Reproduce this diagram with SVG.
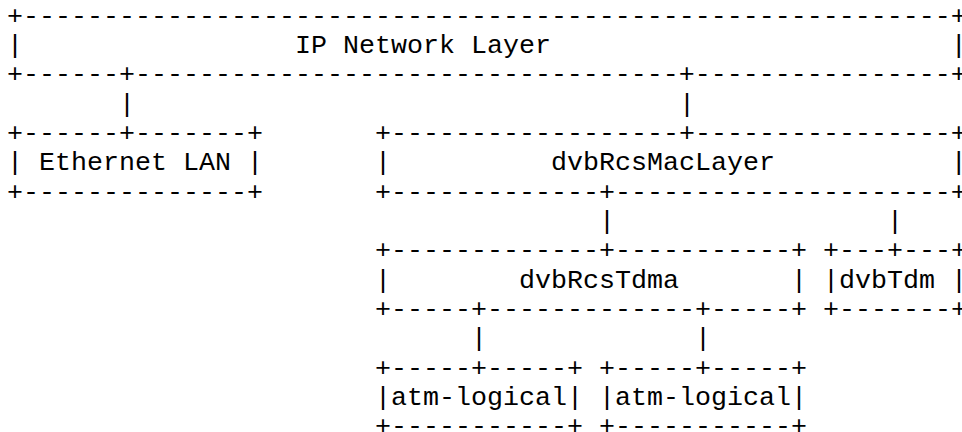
<svg xmlns="http://www.w3.org/2000/svg" width="962" height="432" viewBox="0 0 962 432">
<style>
text{font-family:"Liberation Mono","Courier New",monospace;font-size:26.67px;fill:#000;white-space:pre;}
</style>
<rect width="962" height="432" fill="#fff"/>
<g id="ip-network-layer">
<text x="7" y="23.7">+----------------------------------------------------------+</text>
<text x="7" y="53">|                 IP Network Layer                         |</text>
<text x="7" y="82.4">+------+----------------------------------+----------------+</text>
</g>
<g id="ethernet-lan">
<text x="7" y="141">+------+-------+</text>
<text x="7" y="170.4">| Ethernet LAN |</text>
<text x="7" y="199.7">+--------------+</text>
</g>
<g id="dvbRcsMacLayer">
<text x="375" y="141">+------------------+----------------+</text>
<text x="375" y="170.4">|          dvbRcsMacLayer           |</text>
<text x="375" y="199.7">+-------------+---------------------+</text>
</g>
<g id="dvbRcsTdma">
<text x="375" y="258.4">+-------------+-----------+</text>
<text x="375" y="287.7">|        dvbRcsTdma       |</text>
<text x="375" y="317">+-----+-------------+-----+</text>
</g>
<g id="dvbTdm">
<text x="823" y="258.4">+---+---+</text>
<text x="823" y="287.7">|dvbTdm |</text>
<text x="823" y="317">+-------+</text>
</g>
<g id="atm-logical-1">
<text x="375" y="375.7">+-----+-----+</text>
<text x="375" y="405">|atm-logical|</text>
<text x="375" y="434.3">+-----------+</text>
</g>
<g id="atm-logical-2">
<text x="599" y="375.7">+-----+-----+</text>
<text x="599" y="405">|atm-logical|</text>
<text x="599" y="434.3">+-----------+</text>
</g>
<g id="connectors">
<text x="119" y="111.7">|</text>
<text x="679" y="111.7">|</text>
<text x="599" y="229">|</text>
<text x="887" y="229">|</text>
<text x="471" y="346.4">|</text>
<text x="695" y="346.4">|</text>
</g>
</svg>
